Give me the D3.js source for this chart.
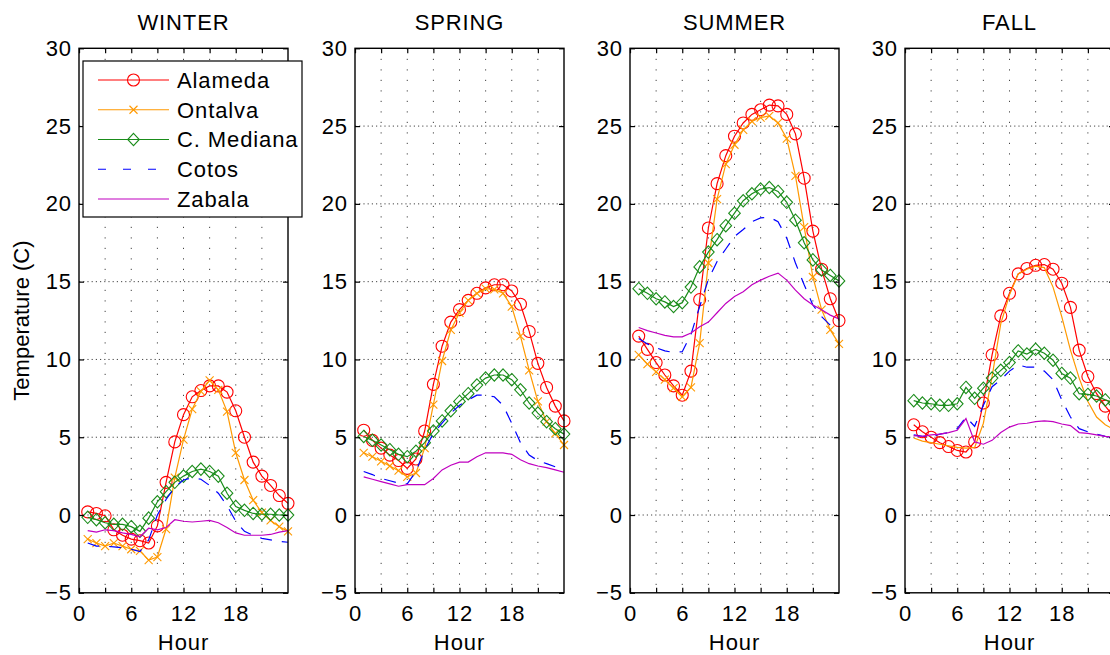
<!DOCTYPE html>
<html>
<head>
<meta charset="utf-8">
<script src="https://cdn.jsdelivr.net/npm/d3@7"></script>
<style>
 body { margin: 0; overflow: hidden; background: #fff; }
 text { font-family: "Liberation Sans", Arial, sans-serif; font-size: 22px; fill: #000; letter-spacing: 0.9px; }
 text.ylabel { letter-spacing: 0; }
</style>
</head>
<body>
<div id="chart"></div>
<script>
// hours of the day, seasons, stations
var hours = [1,2,3,4,5,6,7,8,9,10,11,12,13,14,15,16,17,18,19,20,21,22,23,24];
var seasons = ["WINTER", "SPRING", "SUMMER", "FALL"];
var stations = ["Alameda", "Ontalva", "C. Mediana", "Cotos", "Zabala"];
var xTicks = [0, 3, 6, 9, 12, 15, 18, 21];
var xTickLabels = [0, 6, 12, 18];
var yTicks = [-5, 0, 5, 10, 15, 20, 25, 30];

// mean temperature (C) per hour
var winterAlameda = [0.2, 0.1, -0.05, -0.95, -1.3, -1.55, -1.65, -1.8, -0.7, 2.1, 4.7, 6.45, 7.6, 8.0, 8.3, 8.3, 7.9, 6.7, 5.0, 3.4, 2.5, 1.9, 1.25, 0.75];
var winterOntalva = [-1.55, -1.8, -2.0, -1.8, -2.0, -2.2, -2.3, -2.9, -2.7, -0.9, 2.4, 4.85, 6.8, 7.95, 8.65, 8.05, 6.65, 4.0, 2.25, 0.95, 0.15, -0.35, -0.75, -1.05];
var winterMediana = [-0.15, -0.3, -0.5, -0.6, -0.6, -0.75, -1.05, -0.2, 0.85, 1.5, 2.1, 2.5, 2.8, 2.95, 2.8, 2.5, 1.4, 0.55, 0.3, 0.1, 0.05, 0.05, 0.0, 0.0];
var winterCotos = [-1.8, -2.0, -2.0, -2.05, -2.1, -2.2, -2.35, -1.6, 0.0, 1.0, 1.8, 2.25, 2.4, 2.3, 1.9, 1.4, 0.6, -0.4, -1.05, -1.3, -1.5, -1.6, -1.7, -1.75];
var winterZabala = [-1.0, -1.1, -0.95, -1.0, -1.15, -1.25, -1.4, -0.85, -0.95, -0.8, -0.3, -0.4, -0.45, -0.4, -0.35, -0.5, -0.8, -1.15, -1.3, -1.3, -1.3, -1.25, -1.1, -1.0];

var springAlameda = [5.45, 4.8, 4.3, 3.85, 3.5, 3.0, 3.6, 5.4, 8.4, 10.85, 12.4, 13.2, 13.8, 14.25, 14.6, 14.8, 14.8, 14.4, 13.55, 11.8, 9.75, 8.2, 7.0, 6.05];
var springOntalva = [4.0, 3.75, 3.45, 3.15, 2.85, 2.45, 2.7, 4.3, 7.1, 9.9, 11.9, 13.0, 13.8, 14.25, 14.55, 14.5, 14.25, 13.4, 11.5, 9.3, 7.3, 6.0, 5.25, 4.5];
var springMediana = [5.05, 4.8, 4.5, 4.2, 3.9, 3.75, 4.1, 4.65, 5.4, 6.05, 6.7, 7.3, 7.8, 8.35, 8.8, 9.0, 9.0, 8.7, 8.05, 7.2, 6.55, 6.0, 5.55, 5.2];
var springCotos = [2.8, 2.6, 2.35, 2.2, 2.05, 2.0, 2.8, 4.2, 5.25, 5.9, 6.55, 7.05, 7.4, 7.7, 7.7, 7.6, 7.05, 5.9, 4.65, 3.85, 3.5, 3.3, 3.1, 2.95];
var springZabala = [2.45, 2.3, 2.15, 2.0, 1.85, 1.95, 1.95, 1.95, 2.35, 2.9, 3.2, 3.4, 3.4, 3.75, 4.0, 4.0, 4.0, 3.9, 3.55, 3.3, 3.15, 3.05, 2.9, 2.75];

var summerAlameda = [11.5, 10.65, 9.8, 9.0, 8.3, 7.7, 9.25, 13.85, 18.45, 21.3, 23.1, 24.35, 25.2, 25.75, 26.05, 26.35, 26.3, 25.75, 24.5, 21.65, 18.25, 15.8, 13.9, 12.5];
var summerOntalva = [10.3, 9.7, 9.2, 8.7, 8.15, 7.6, 8.2, 11.05, 16.2, 20.3, 22.55, 23.8, 24.75, 25.3, 25.55, 25.65, 25.2, 24.2, 21.8, 18.5, 15.3, 13.2, 11.9, 11.0];
var summerMediana = [14.55, 14.25, 13.9, 13.7, 13.4, 13.65, 14.65, 15.95, 16.9, 17.7, 18.6, 19.4, 20.2, 20.65, 20.95, 21.05, 20.8, 20.1, 18.95, 17.5, 16.4, 15.75, 15.4, 15.05];
var summerCotos = [11.35, 11.0, 10.75, 10.55, 10.45, 10.5, 11.6, 13.4, 15.15, 16.3, 17.1, 17.9, 18.35, 18.85, 19.1, 19.15, 18.85, 17.8, 16.2, 14.8, 13.5, 12.75, 12.2, 11.9];
var summerZabala = [12.05, 11.85, 11.7, 11.55, 11.45, 11.45, 11.7, 12.1, 12.4, 13.0, 13.6, 14.05, 14.35, 14.8, 15.1, 15.35, 15.55, 15.1, 14.45, 13.9, 13.5, 13.2, 12.85, 12.6];

var fallAlameda = [5.8, 5.35, 5.0, 4.65, 4.4, 4.15, 4.05, 4.7, 7.2, 10.3, 12.8, 14.25, 15.5, 15.85, 16.05, 16.1, 15.8, 14.9, 13.35, 10.6, 8.9, 7.8, 7.0, 6.3];
var fallOntalva = [4.95, 4.75, 4.65, 4.55, 4.45, 4.35, 4.3, 4.35, 5.9, 8.9, 12.3, 14.15, 15.5, 15.8, 16.0, 15.9, 14.65, 12.75, 10.6, 8.8, 7.3, 6.3, 5.8, 5.5];
var fallMediana = [7.35, 7.2, 7.15, 7.05, 7.05, 7.15, 8.2, 7.5, 8.15, 8.8, 9.3, 9.8, 10.55, 10.35, 10.65, 10.4, 9.95, 9.1, 8.8, 7.8, 7.75, 7.65, 7.4, 7.2];
var fallCotos = [5.15, 5.05, 5.05, 5.2, 5.3, 5.55, 6.3, 5.7, 7.05, 8.25, 8.7, 9.25, 9.65, 9.5, 9.5, 9.25, 8.7, 7.4, 6.3, 5.55, 5.35, 5.2, 5.05, 5.0];
var fallZabala = [5.1, 5.05, 5.15, 5.2, 5.3, 5.45, 6.2, 4.7, 4.55, 4.8, 5.3, 5.65, 5.85, 5.9, 6.0, 6.05, 6.0, 5.85, 5.75, 5.3, 5.25, 5.15, 5.05, 5.0];

var seasonSeries = [
 [winterAlameda, winterOntalva, winterMediana, winterCotos, winterZabala],
 [springAlameda, springOntalva, springMediana, springCotos, springZabala],
 [summerAlameda, summerOntalva, summerMediana, summerCotos, summerZabala],
 [fallAlameda, fallOntalva, fallMediana, fallCotos, fallZabala]
];

// line look for each station
var styles = [
 { color: "#ff0000", marker: "circle", dash: null },
 { color: "#ff9900", marker: "cross", dash: null },
 { color: "#1a8c1a", marker: "diamond", dash: null },
 { color: "#0000ff", marker: null, dash: "12,10" },
 { color: "#c000c0", marker: null, dash: null }
];
// ontalva has no markers in the fall panel
function hasMarker(s, k) { return styles[k].marker && !(s === 3 && k === 1); }

var width = 1110, height = 655;
var panelLeft = [79, 355, 630, 905];
var plotTop = 48.3, pw = 209, ph = 544.5;

var svg = d3.select("#chart").append("svg")
    .attr("width", width)
    .attr("height", height);

var x = d3.scaleLinear().domain([0, 24]).range([0, pw]);
var y = d3.scaleLinear().domain([-5, 30]).range([ph, 0]);

var line = d3.line()
    .x(function(d) { return x(d[0]); })
    .y(function(d) { return y(d[1]); });

function drawMarker(sel, type, color) {
  if (type === "circle") {
    sel.append("circle").attr("r", 6);
  } else if (type === "cross") {
    sel.append("path").attr("d", "M-4,-4L4,4M-4,4L4,-4");
  } else if (type === "diamond") {
    sel.append("path").attr("d", "M0,-6.2L5.8,0L0,6.2L-5.8,0Z");
  }
  sel.selectAll("circle,path")
      .attr("fill", "none")
      .attr("stroke", color)
      .attr("stroke-width", 1.1);
}

seasons.forEach(function(season, s) {
  var g = svg.append("g")
      .attr("transform", "translate(" + panelLeft[s] + "," + plotTop + ")");

  // dotted grid
  g.append("g").selectAll("line")
      .data(xTicks.slice(1))
      .enter().append("line")
      .attr("x1", function(d) { return x(d); })
      .attr("x2", function(d) { return x(d); })
      .attr("y1", 0).attr("y2", ph)
      .attr("stroke", "#444").attr("stroke-width", 1)
      .attr("stroke-dasharray", "1.2,9.3");
  g.append("g").selectAll("line")
      .data(yTicks.slice(1, -1))
      .enter().append("line")
      .attr("y1", function(d) { return y(d); })
      .attr("y2", function(d) { return y(d); })
      .attr("x1", 0).attr("x2", pw)
      .attr("stroke", "#444").attr("stroke-width", 1)
      .attr("stroke-dasharray", "1.2,3");

  // station lines
  seasonSeries[s].forEach(function(vals, k) {
    var st = styles[k];
    var pts = hours.map(function(h, i) { return [h, vals[i]]; });
    g.append("path")
        .attr("d", line(pts))
        .attr("fill", "none")
        .attr("stroke", st.color)
        .attr("stroke-width", 1.2)
        .attr("stroke-dasharray", st.dash);
    if (hasMarker(s, k)) {
      g.append("g").selectAll("g")
          .data(pts)
          .enter().append("g")
          .attr("transform", function(d) { return "translate(" + x(d[0]) + "," + y(d[1]) + ")"; })
          .each(function() { drawMarker(d3.select(this), st.marker, st.color); });
    }
  });

  // axes with inward ticks
  var fmtX = function(d) { return xTickLabels.indexOf(d) >= 0 ? d : ""; };
  g.append("g").attr("transform", "translate(0," + ph + ")")
      .call(d3.axisBottom(x).tickValues(xTicks).tickSize(-5).tickPadding(13).tickFormat(fmtX));
  g.append("g")
      .call(d3.axisTop(x).tickValues(xTicks).tickSize(-5).tickFormat(""));
  g.append("g")
      .call(d3.axisLeft(y).tickValues(yTicks).tickSize(-5).tickPadding(7).tickFormat(d3.format("d")));
  g.append("g").attr("transform", "translate(" + pw + ",0)")
      .call(d3.axisRight(y).tickValues(yTicks).tickSize(-5).tickFormat(""));
  g.selectAll(".domain").remove();
  g.selectAll(".tick line").attr("stroke", "#000").attr("stroke-width", 1.2);
  g.selectAll(".tick text").attr("font-size", null);

  g.append("rect")
      .attr("width", pw).attr("height", ph)
      .attr("fill", "none")
      .attr("stroke", "#000").attr("stroke-width", 1.4);

  g.append("text")
      .attr("x", pw / 2).attr("y", 30 - plotTop)
      .attr("text-anchor", "middle")
      .text(season);
  g.append("text")
      .attr("x", pw / 2).attr("y", 650 - plotTop)
      .attr("text-anchor", "middle")
      .text("Hour");
});

svg.append("text")
    .attr("class", "ylabel")
    .attr("transform", "translate(29," + (plotTop + ph / 2) + ") rotate(-90)")
    .attr("text-anchor", "middle")
    .text("Temperature (C)");

// legend
var legend = svg.append("g").attr("transform", "translate(83,61)");
legend.append("rect")
    .attr("width", 219).attr("height", 156)
    .attr("fill", "#fff").attr("stroke", "#000").attr("stroke-width", 1.2);
stations.forEach(function(name, k) {
  var st = styles[k];
  var row = legend.append("g").attr("transform", "translate(0," + (19 + k * 29.75) + ")");
  row.append("line")
      .attr("x1", 15).attr("x2", 86)
      .attr("stroke", st.color).attr("stroke-width", 1.2)
      .attr("stroke-dasharray", st.dash ? "8,17" : null);
  if (st.marker) drawMarker(row.append("g").attr("transform", "translate(50.5,0)"), st.marker, st.color);
  row.append("text").attr("x", 94).attr("dy", "0.36em").text(name);
});
</script>
</body>
</html>
